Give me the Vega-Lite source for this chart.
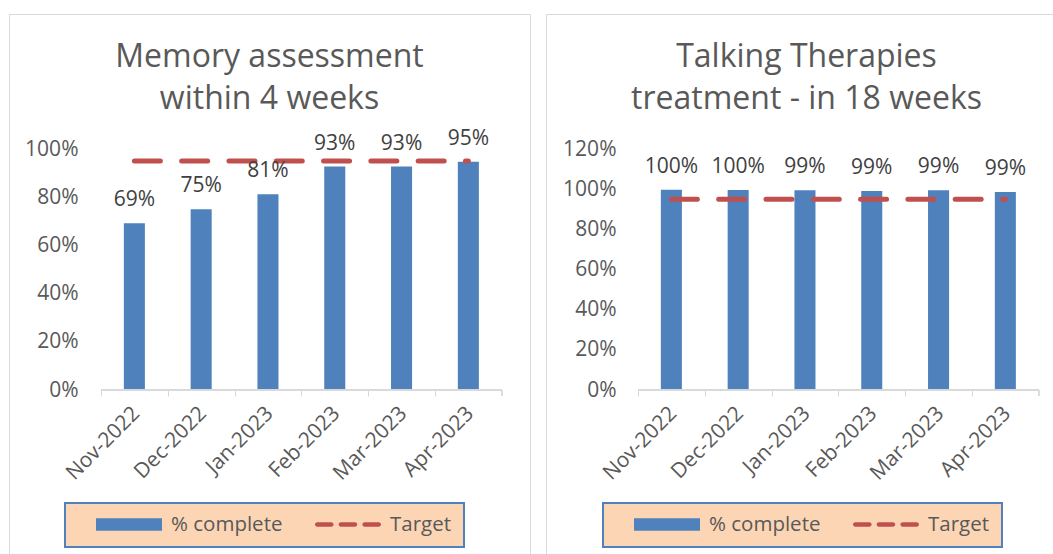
{
  "$schema": "https://vega.github.io/schema/vega-lite/v6.json",
  "padding": {"left": 8, "top": 13, "right": 0, "bottom": 0},
  "background": "white",
  "spacing": 14,
  "data": {"values": [
    {"chart": "memory", "month": "Nov-2022", "pct": 0.692, "target": 0.95},
    {"chart": "memory", "month": "Dec-2022", "pct": 0.75, "target": 0.95},
    {"chart": "memory", "month": "Jan-2023", "pct": 0.812, "target": 0.95},
    {"chart": "memory", "month": "Feb-2023", "pct": 0.927, "target": 0.95},
    {"chart": "memory", "month": "Mar-2023", "pct": 0.927, "target": 0.95},
    {"chart": "memory", "month": "Apr-2023", "pct": 0.947, "target": 0.95},
    {"chart": "talking", "month": "Nov-2022", "pct": 0.997, "target": 0.95},
    {"chart": "talking", "month": "Dec-2022", "pct": 0.996, "target": 0.95},
    {"chart": "talking", "month": "Jan-2023", "pct": 0.994, "target": 0.95},
    {"chart": "talking", "month": "Feb-2023", "pct": 0.991, "target": 0.95},
    {"chart": "talking", "month": "Mar-2023", "pct": 0.994, "target": 0.95},
    {"chart": "talking", "month": "Apr-2023", "pct": 0.986, "target": 0.95}
  ]},
  "hconcat": [
    {
      "width": 521,
      "height": 548,
      "title": {"text": ["Memory assessment", "within 4 weeks"]},
      "transform": [{"filter": "datum.chart === 'memory'"}],
      "layer": [
        {
          "mark": {"type": "bar", "width": {"band": 0.315}},
          "encoding": {
            "x": {"field": "month", "type": "nominal", "sort": null,
              "scale": {"paddingInner": 0, "paddingOuter": 0.9, "align": 0.765},
              "axis": {"title": null, "labelAngle": -45, "labelAlign": "right", "labelBaseline": "middle", "labelPadding": 14, "tickSize": 6, "tickColor": "#D9D9D9", "tickOffset": -33.4, "labelOffset": 35, "domain": false, "offset": -172, "grid": false}},
            "y": {"field": "pct", "type": "quantitative",
              "scale": {"domain": [-0.71369, 1.56017], "nice": false, "zero": false},
              "axis": {"title": null, "values": [0, 0.2, 0.4, 0.6, 0.8, 1], "format": ".0%", "domain": false, "ticks": false, "tickSize": 0, "grid": false, "labelPadding": 0, "offset": -69}},
            "color": {"datum": "% complete", "type": "nominal",
              "scale": {"domain": ["% complete", "Target"], "range": ["#4F81BD", "#C0504D"]},
              "legend": {"title": " ", "titleOrient": "left", "titlePadding": 19, "titleFontSize": 10, "orient": "none", "legendX": 56, "legendY": 489, "direction": "horizontal", "gridAlign": "none", "symbolSize": 4356, "symbolStrokeWidth": 0, "clipHeight": 19, "labelOffset": 9, "columnPadding": 14, "padding": 12, "fillColor": "#FCD5B5", "strokeColor": "#4F81BD",
                "encode": {
                  "symbols": {"update": {"x": {"signal": "datum.value === 'Target' ? 51 : 33"}, "shape": {"signal": "datum.value === 'Target' ? 'M-0.932,-0.068H-0.504A0.068,0.068,0,0,1,-0.504,0.068H-0.932A0.068,0.068,0,0,1,-0.932,-0.068Z M-0.216,-0.068H0.212A0.068,0.068,0,0,1,0.212,0.068H-0.216A0.068,0.068,0,0,1,-0.216,-0.068Z M0.504,-0.068H0.932A0.068,0.068,0,0,1,0.932,0.068H0.504A0.068,0.068,0,0,1,0.504,-0.068Z' : 'M-1,-0.19H1V0.19H-1Z'"}, "fill": {"signal": "datum.value === 'Target' ? '#C0504D' : '#4F81BD'"}, "stroke": {"value": "transparent"}, "opacity": {"value": 1}}},
                  "labels": {"update": {"dx": {"signal": "datum.value === 'Target' ? 18 : 0"}}},
                  "legend": {"update": {"strokeWidth": {"value": 2}}}}}}
          }
        },
        {
          "mark": {"type": "line", "strokeWidth": 5, "strokeDash": [26, 21.3], "strokeCap": "round"},
          "encoding": {
            "x": {"field": "month", "type": "nominal", "sort": null},
            "y": {"field": "target", "type": "quantitative"},
            "color": {"datum": "Target", "type": "nominal"}
          }
        },
        {
          "mark": {"type": "text", "dy": -17, "baseline": "alphabetic", "fontSize": 21, "color": "#404040"},
          "encoding": {
            "x": {"field": "month", "type": "nominal", "sort": null},
            "y": {"field": "pct", "type": "quantitative"},
            "text": {"field": "pct", "format": ".0%"}
          }
        },
        {
          "mark": {"type": "rule", "color": "#D9D9D9", "strokeWidth": 1},
          "encoding": {
            "x": {"datum": "Nov-2022", "type": "nominal", "bandPosition": 0},
            "x2": {"datum": "Apr-2023", "bandPosition": 1},
            "y": {"datum": 0, "type": "quantitative"}
          }
        },
        {
          "mark": {"type": "rule", "color": "#D9D9D9", "strokeWidth": 1},
          "encoding": {
            "x": {"datum": "Apr-2023", "type": "nominal", "bandPosition": 1},
            "y": {"datum": 0, "type": "quantitative"},
            "y2": {"datum": -0.0249}
          }
        }
      ]
    },
    {
      "width": 521,
      "height": 548,
      "title": {"text": ["Talking Therapies", "treatment - in 18 weeks"]},
      "transform": [{"filter": "datum.chart === 'talking'"}],
      "layer": [
        {
          "mark": {"type": "bar", "width": {"band": 0.315}},
          "encoding": {
            "x": {"field": "month", "type": "nominal", "sort": null,
              "scale": {"paddingInner": 0, "paddingOuter": 0.9, "align": 0.765},
              "axis": {"title": null, "labelAngle": -45, "labelAlign": "right", "labelBaseline": "middle", "labelPadding": 14, "tickSize": 6, "tickColor": "#D9D9D9", "tickOffset": -33.4, "labelOffset": 35, "domain": false, "offset": -172, "grid": false}},
            "y": {"field": "pct", "type": "quantitative",
              "scale": {"domain": [-0.85643, 1.8722], "nice": false, "zero": false},
              "axis": {"title": null, "values": [0, 0.2, 0.4, 0.6, 0.8, 1, 1.2], "format": ".0%", "domain": false, "ticks": false, "tickSize": 0, "grid": false, "labelPadding": 0, "offset": -70}},
            "color": {"datum": "% complete", "type": "nominal",
              "scale": {"domain": ["% complete", "Target"], "range": ["#4F81BD", "#C0504D"]},
              "legend": {"title": " ", "titleOrient": "left", "titlePadding": 19, "titleFontSize": 10, "orient": "none", "legendX": 57, "legendY": 489, "direction": "horizontal", "gridAlign": "none", "symbolSize": 4356, "symbolStrokeWidth": 0, "clipHeight": 19, "labelOffset": 9, "columnPadding": 14, "padding": 12, "fillColor": "#FCD5B5", "strokeColor": "#4F81BD",
                "encode": {
                  "symbols": {"update": {"x": {"signal": "datum.value === 'Target' ? 51 : 33"}, "shape": {"signal": "datum.value === 'Target' ? 'M-0.932,-0.068H-0.504A0.068,0.068,0,0,1,-0.504,0.068H-0.932A0.068,0.068,0,0,1,-0.932,-0.068Z M-0.216,-0.068H0.212A0.068,0.068,0,0,1,0.212,0.068H-0.216A0.068,0.068,0,0,1,-0.216,-0.068Z M0.504,-0.068H0.932A0.068,0.068,0,0,1,0.932,0.068H0.504A0.068,0.068,0,0,1,0.504,-0.068Z' : 'M-1,-0.19H1V0.19H-1Z'"}, "fill": {"signal": "datum.value === 'Target' ? '#C0504D' : '#4F81BD'"}, "stroke": {"value": "transparent"}, "opacity": {"value": 1}}},
                  "labels": {"update": {"dx": {"signal": "datum.value === 'Target' ? 18 : 0"}}},
                  "legend": {"update": {"strokeWidth": {"value": 2}}}}}}
          }
        },
        {
          "mark": {"type": "line", "strokeWidth": 5, "strokeDash": [26, 21.3], "strokeCap": "round"},
          "encoding": {
            "x": {"field": "month", "type": "nominal", "sort": null},
            "y": {"field": "target", "type": "quantitative"},
            "color": {"datum": "Target", "type": "nominal"}
          }
        },
        {
          "mark": {"type": "text", "dy": -17, "baseline": "alphabetic", "fontSize": 21, "color": "#404040"},
          "encoding": {
            "x": {"field": "month", "type": "nominal", "sort": null},
            "y": {"field": "pct", "type": "quantitative"},
            "text": {"field": "pct", "format": ".0%"}
          }
        },
        {
          "mark": {"type": "rule", "color": "#D9D9D9", "strokeWidth": 1},
          "encoding": {
            "x": {"datum": "Nov-2022", "type": "nominal", "bandPosition": 0},
            "x2": {"datum": "Apr-2023", "bandPosition": 1},
            "y": {"datum": 0, "type": "quantitative"}
          }
        },
        {
          "mark": {"type": "rule", "color": "#D9D9D9", "strokeWidth": 1},
          "encoding": {
            "x": {"datum": "Apr-2023", "type": "nominal", "bandPosition": 1},
            "y": {"datum": 0, "type": "quantitative"},
            "y2": {"datum": -0.0299}
          }
        }
      ]
    }
  ],
  "resolve": {
    "scale": {"x": "independent", "y": "independent", "color": "independent"},
    "legend": {"color": "independent"}
  },
  "config": {
    "font": "Open Sans",
    "view": {"stroke": "#D9D9D9", "strokeWidth": 1, "fill": "white"},
    "title": {"fontSize": 32, "lineHeight": 42, "color": "#595959", "fontWeight": "normal", "font": "Open Sans", "anchor": "middle", "offset": -102},
    "axis": {"labelFontSize": 21, "labelColor": "#595959", "labelFont": "Open Sans"},
    "text": {"font": "Open Sans"},
    "legend": {"labelFontSize": 20.5, "labelColor": "#595959", "labelFont": "Open Sans", "titleColor": "#595959"}
  }
}
